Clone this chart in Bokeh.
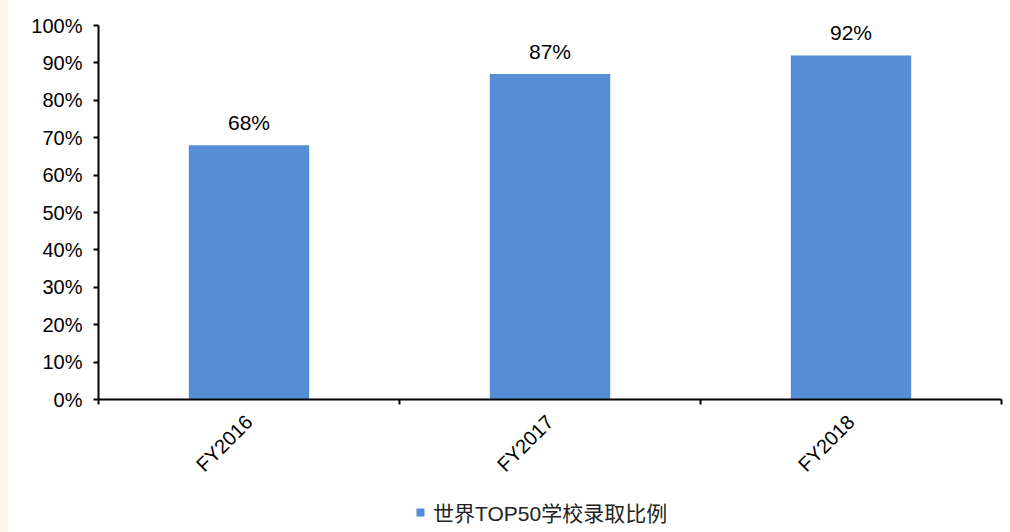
from bokeh.plotting import figure
from bokeh.models import (ColumnDataSource, Range1d, FixedTicker, NumeralTickFormatter,
                          LabelSet, Legend, LegendItem, Spacer)
from bokeh.core.properties import value
from bokeh.layouts import row, column
from bokeh.embed import file_html
from bokeh.resources import INLINE
from math import pi

# Admission ratio to world top-50 schools, by fiscal year
categories = ["FY2016", "FY2017", "FY2018"]
ratios = [0.68, 0.87, 0.92]
y_ticks = [0.0, 0.1, 0.2, 0.3, 0.4, 0.5, 0.6, 0.7, 0.8, 0.9, 1.0]
series_name = "世界TOP50学校录取比例"

BAR_COLOR = "#558ED5"
LATIN_FONT = "Liberation Sans"

centers = [i + 0.5 for i in range(len(categories))]
source = ColumnDataSource(dict(
    x=centers,
    top=ratios,
    label=[f"{round(v * 100)}%" for v in ratios],
))

p = figure(width=1002, height=486, output_backend="svg", toolbar_location=None,
           x_range=Range1d(0, len(categories)), y_range=Range1d(0, 1.0),
           min_border_left=90, min_border_right=9, min_border_top=25, min_border_bottom=86)
p.outline_line_color = None
p.background_fill_color = "white"
p.border_fill_color = "white"
p.grid.visible = False

bars = p.vbar(x="x", top="top", width=0.4, source=source,
              fill_color=BAR_COLOR, line_color=None)

# value labels above bars
labels = LabelSet(x="x", y="top", text="label", source=source,
                  text_align="center", text_baseline="alphabetic", y_offset=15,
                  text_font=value(LATIN_FONT), text_font_size=value("21px"),
                  text_color=value("black"))
p.add_layout(labels)

# y axis
ya = p.yaxis[0]
ya.ticker = FixedTicker(ticks=y_ticks)
ya.formatter = NumeralTickFormatter(format="0%")
ya.axis_line_width = 2
ya.axis_line_color = "black"
ya.major_tick_line_width = 2
ya.major_tick_in = 0
ya.major_tick_out = 5
ya.minor_tick_line_color = None
ya.major_label_standoff = 11
ya.major_label_text_font = LATIN_FONT
ya.major_label_text_font_size = "20px"
ya.major_label_text_color = "black"

# x axis: labels at category centers, ticks at category boundaries
xa = p.xaxis[0]
xa.ticker = FixedTicker(ticks=centers, minor_ticks=list(range(len(categories) + 1)))
xa.major_label_overrides = {c: name for c, name in zip(centers, categories)}
xa.axis_line_width = 2
xa.axis_line_color = "black"
xa.major_tick_in = 0
xa.major_tick_out = 0
xa.minor_tick_in = 0
xa.minor_tick_out = 5
xa.minor_tick_line_width = 2
xa.minor_tick_line_color = "black"
xa.major_label_orientation = pi / 4
xa.major_label_standoff = 14
xa.major_label_text_font = LATIN_FONT
xa.major_label_text_font_size = "20px"
xa.major_label_text_color = "black"

# legend strip underneath the chart
lf = figure(width=1002, height=46, output_backend="svg", toolbar_location=None,
            x_axis_type=None, y_axis_type=None,
            min_border_left=0, min_border_right=0, min_border_top=0, min_border_bottom=0)
lf.outline_line_color = None
lf.grid.visible = False
key = lf.vbar(x="x", top="top", width=0.4, source=source,
              fill_color=BAR_COLOR, line_color=None, visible=False)
legend = Legend(items=[LegendItem(label=series_name, renderers=[key])],
                location=(317, 5), orientation="horizontal",
                glyph_width=10, glyph_height=10, label_standoff=8,
                padding=0, margin=0, border_line_color=None,
                background_fill_alpha=0, inactive_fill_alpha=0,
                label_text_font="Liberation Sans, Noto Sans CJK SC",
                label_text_font_size="21px", label_text_color="#222222")
lf.add_layout(legend, "center")

strip = Spacer(width=8, height=532, styles={"background-color": "#FFF9EA"})
layout = row(strip, column(p, lf, spacing=0), spacing=0)

open("out.html", "w").write(file_html(layout, INLINE))
